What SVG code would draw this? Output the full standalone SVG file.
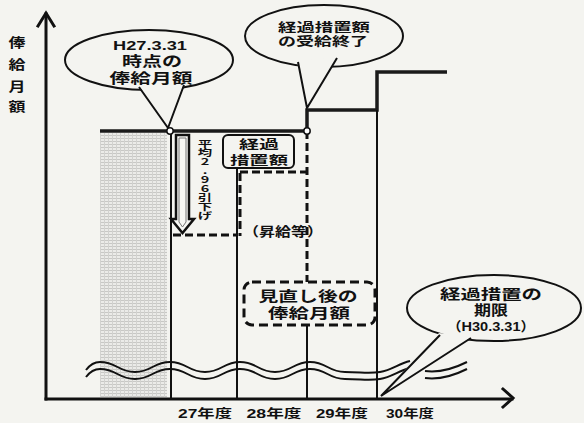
<svg xmlns="http://www.w3.org/2000/svg" width="584" height="423" viewBox="0 0 584 423">
<style>
text{font-family:"Liberation Sans","Noto Sans CJK JP",sans-serif;font-weight:700;fill:#111;}
.ax{stroke:#111;stroke-width:3;fill:none;stroke-linecap:square}
.ln{stroke:#111;stroke-width:2;fill:none}
.th{stroke:#1a1a1a;stroke-width:3.5;fill:none}
.ds{stroke:#111;stroke-width:3;fill:none;stroke-dasharray:8,4}
.wv{stroke:#111;stroke-width:2;fill:none}
.co{stroke:#111;stroke-width:2;fill:#f4f4f0}
.vt{font-family:"Noto Sans CJK JP",sans-serif;writing-mode:vertical-rl;text-orientation:upright}
</style>
<defs>
<pattern id="dots" width="4" height="3" patternUnits="userSpaceOnUse">
<rect width="4" height="3" fill="#ebebe8"/>
<rect x="0" y="0" width="4" height="1" fill="#c8c8c5"/>
<rect x="0" y="0" width="1" height="3" fill="#d2d2cf"/>
</pattern>
</defs>
<rect width="584" height="423" fill="#f4f4f0"/>
<rect x="100" y="133" width="67" height="264" fill="url(#dots)"/>

<g id="connectors">
<line class="ax" x1="46" y1="14" x2="46" y2="399"/>
<polyline class="ax" points="38,26 46,13 54,26"/>
<line class="ax" x1="46" y1="399" x2="512" y2="399"/>
<polyline class="ax" points="503,389 513,398 503,407"/>
<polyline class="th" points="100,131 307,131 307,110 377,110 377,72 447,72"/>
<line class="ln" x1="171" y1="131" x2="171" y2="398"/>
<line class="ln" x1="237" y1="169" x2="237" y2="398"/>
<line class="ds" x1="240" y1="173" x2="240" y2="236" stroke-width="2"/>
<line class="ln" x1="377" y1="110" x2="377" y2="398"/>
<line class="ds" x1="307" y1="131" x2="307" y2="283"/>
<line class="ln" x1="307" y1="325" x2="307" y2="398"/>
<line class="ds" x1="173" y1="235" x2="238" y2="235"/>
<line class="ds" x1="240" y1="172" x2="306" y2="172"/>
<path id="w1" class="wv" d="M 86 370 Q 92 362 100 362 C 117 362 118 372 135 372 S 153 362 170 362 S 188 372 205 372 S 223 362 240 362 S 258 372 275 372 S 293 362 310 362 S 328 372 345 372 S 368 374 380 372 S 398 364 410 361"/>
<use href="#w1" transform="translate(0,7)"/>
<path id="w2" class="wv" d="M 425 371 C 440 373 455 368 467 362"/>
<use href="#w2" transform="translate(0,7)"/>
<path d="M 176 135 L 189 135 L 189 219 L 194 219 L 182.5 233 L 171 219 L 176 219 Z" fill="#f7f7f4" stroke="#111" stroke-width="2.5"/>
<path d="M 179 138 L 186 138 L 186 222 L 182.5 227 L 179 222 Z" fill="none" stroke="#777" stroke-width="1"/>
</g>

<g id="callout1">
<ellipse class="co" cx="149" cy="60" rx="84" ry="30"/>
<polygon points="139,86 184,84 168,128" fill="#f4f4f0"/>
<polyline class="ln" points="139,87 168,128 184,85"/>
<circle cx="170" cy="131" r="3.2" fill="#fff" stroke="#111" stroke-width="1.5"/>
<text x="150" y="50" text-anchor="middle" font-size="13" textLength="74" lengthAdjust="spacingAndGlyphs">H27.3.31</text>
<text x="152" y="66" text-anchor="middle" font-size="14" textLength="60" lengthAdjust="spacingAndGlyphs">時点の</text>
<text x="151" y="83" text-anchor="middle" font-size="14" textLength="83" lengthAdjust="spacingAndGlyphs">俸給月額</text>
</g>

<g id="callout2">
<ellipse class="co" cx="324" cy="36" rx="79" ry="31"/>
<polygon points="297,61 338,57 307,109" fill="#f4f4f0"/>
<polyline class="ln" points="298,62 307,108 337,58"/>
<circle cx="307" cy="131" r="3.2" fill="#fff" stroke="#111" stroke-width="1.5"/>
<text x="324" y="32" text-anchor="middle" font-size="12" textLength="92" lengthAdjust="spacingAndGlyphs">経過措置額</text>
<text x="323" y="46" text-anchor="middle" font-size="12" textLength="90" lengthAdjust="spacingAndGlyphs">の受給終了</text>
</g>

<g id="callout3">
<ellipse class="co" cx="494" cy="308" rx="87" ry="33"/>
<polygon points="439,333 472,337 381,396" fill="#f4f4f0"/>
<polyline class="ln" points="440,335 381,396 471,338"/>
<text x="491" y="299" text-anchor="middle" font-size="14" textLength="102" lengthAdjust="spacingAndGlyphs">経過措置の</text>
<text x="491" y="315" text-anchor="middle" font-size="14" textLength="34" lengthAdjust="spacingAndGlyphs">期限</text>
<text x="491" y="331" text-anchor="middle" font-size="13" textLength="88" lengthAdjust="spacingAndGlyphs">（H30.3.31）</text>
</g>

<g id="box-keika">
<rect x="223" y="135" width="71" height="33" rx="5" fill="#f4f4f0" stroke="#111" stroke-width="2"/>
<text x="259" y="149" text-anchor="middle" font-size="12" textLength="40" lengthAdjust="spacingAndGlyphs">経過</text>
<text x="259" y="165" text-anchor="middle" font-size="12" textLength="58" lengthAdjust="spacingAndGlyphs">措置額</text>
</g>

<g id="label-shokyu">
<text x="283" y="236" text-anchor="middle" font-size="13" textLength="80" lengthAdjust="spacingAndGlyphs">（昇給等）</text>
</g>

<g id="box-minaoshi">
<rect x="244" y="282" width="131" height="43" rx="8" fill="#f4f4f0" stroke="#111" stroke-width="3" stroke-dasharray="9,5"/>
<text x="308" y="301" text-anchor="middle" font-size="14" textLength="99" lengthAdjust="spacingAndGlyphs">見直し後の</text>
<text x="309" y="318" text-anchor="middle" font-size="14" textLength="82" lengthAdjust="spacingAndGlyphs">俸給月額</text>
</g>

<g id="label-hikisage">
<text class="vt" x="0" y="139" font-size="9" transform="translate(205 0) scale(1.6 1)">平均2.96引下げ</text>
</g>

<g id="y-label" font-size="13">
<text x="17" y="47" text-anchor="middle" textLength="17" lengthAdjust="spacingAndGlyphs">俸</text>
<text x="17" y="69" text-anchor="middle" textLength="17" lengthAdjust="spacingAndGlyphs">給</text>
<text x="17" y="91" text-anchor="middle" textLength="17" lengthAdjust="spacingAndGlyphs">月</text>
<text x="17" y="111" text-anchor="middle" textLength="17" lengthAdjust="spacingAndGlyphs">額</text>
</g>

<g id="x-labels" font-size="12">
<text x="205" y="418" text-anchor="middle" textLength="54" lengthAdjust="spacingAndGlyphs">27年度</text>
<text x="274" y="418" text-anchor="middle" textLength="55" lengthAdjust="spacingAndGlyphs">28年度</text>
<text x="342" y="418" text-anchor="middle" textLength="52" lengthAdjust="spacingAndGlyphs">29年度</text>
<text x="410" y="418" text-anchor="middle" textLength="48" lengthAdjust="spacingAndGlyphs">30年度</text>
</g>
</svg>
